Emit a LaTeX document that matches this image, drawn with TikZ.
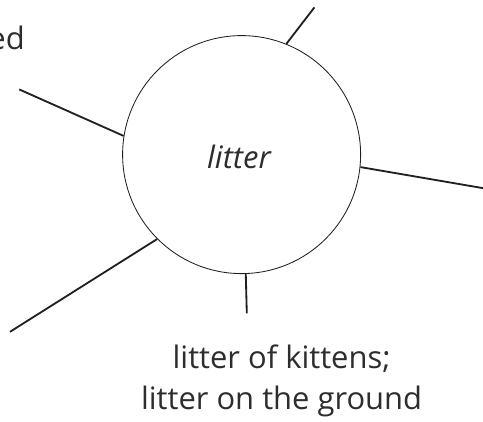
\documentclass[tikz,border=0pt]{standalone}
\usepackage{fontspec}
\setmainfont{Open Sans}
\usepackage{xcolor}
\usepackage{tikz}
\usetikzlibrary{positioning, calc}
\definecolor{inkdark}{RGB}{35,31,32}
\definecolor{inktext}{RGB}{45,45,45}
\tikzset{
  hub/.style={circle, draw=inkdark, fill=white, minimum size=5.95cm,
    inner sep=0pt, line width=0.6pt},
  spoke/.style={line width=1.3pt, color=inkdark},
  word/.style={inner sep=0pt, text=inktext, font=\fontsize{22}{26}\selectfont}
}
\begin{document}
\begin{tikzpicture}
  \useasboundingbox (0,0) rectangle (12.075,10.525);
  \clip (0,0) rectangle (12.075,10.525);

  % Spoke ends
  \coordinate (tr) at (7.86,10.34);
  \coordinate (lu) at (0.48,8.29);
  \coordinate (rt) at (12.2,5.80);
  \coordinate (ll) at (0.25,2.23);
  \coordinate (bt) at (6.17,2.69);

  % Centre circle
  \node[hub] (litter) at (6.04,6.66) {};
  \node[word, anchor=base, font=\fontsize{22}{26}\selectfont\itshape] (lit) at (5.975,6.325) {litter};

  % Spokes
  \draw[spoke] (litter.68.5) -- (tr);
  \draw[spoke] (litter.171.4) -- (lu);
  \draw[spoke] (litter.-6.9) -- (rt);
  \draw[spoke] (litter.225) -- (ll);
  \draw[spoke] (litter.272) -- (bt);

  % Labels
  \node[word, anchor=base] (kit1) at (7.04,1.32) {litter of kittens;};
  \node[word, anchor=base] (kit2) at (7.04,0.29) {litter on the ground};
  \node[word, anchor=base east] (ed) at (0.625,9.29) {ed};
  \node[word, anchor=base east] (nn) at (0.05,0.275) {n};
\end{tikzpicture}
\end{document}
